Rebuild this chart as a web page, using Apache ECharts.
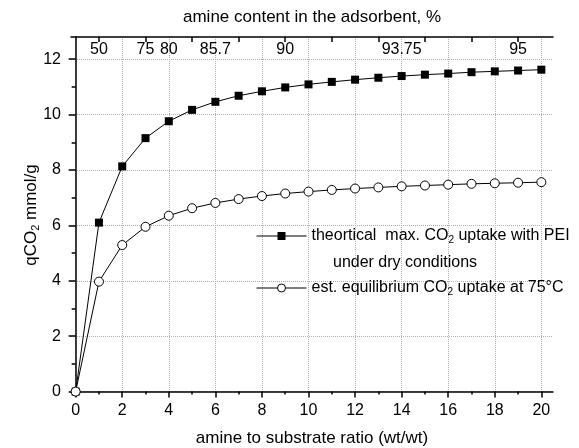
<!DOCTYPE html>
<html>
<head>
<meta charset="utf-8">
<script src="https://cdn.jsdelivr.net/npm/echarts@6/dist/echarts.min.js"></script>
<style>html,body{margin:0;padding:0;background:#fff}#c{width:579px;height:448px}</style>
</head>
<body>
<div id="c"></div>
<script>
// ---- data ----
const ratio = [0,1,2,3,4,5,6,7,8,9,10,11,12,13,14,15,16,17,18,19,20];
const theoretical = [0,6.10,8.13,9.15,9.76,10.17,10.46,10.68,10.84,10.98,11.09,11.18,11.26,11.33,11.39,11.44,11.48,11.53,11.56,11.59,11.62];
const equilibrium = [0,3.97,5.29,5.95,6.35,6.62,6.81,6.95,7.06,7.15,7.22,7.28,7.33,7.37,7.41,7.44,7.47,7.50,7.52,7.54,7.56];
const bottomTicks = [0,2,4,6,8,10,12,14,16,18,20];
const bottomMinor = [1,3,5,7,9,11,13,15,17,19];
const leftTicks = [0,2,4,6,8,10,12];
const leftMinor = [1,3,5,7,9,11];
const topTicks = [1,3,5,7,9,11,13,15,17,19];
const topLabelPos = [1,3,4,6,9,14,19];
const topLabels = ['50','75','80','85.7','90','93.75','95'];

const FONT = "'Liberation Sans', Arial, sans-serif";
const X_MIN = -0.2, X_MAX = 20.5, Y_MIN = -0.05, Y_MAX = 12.8;
const grid = '#b0b0b0';

const chart = echarts.init(document.getElementById('c'), null, {renderer: 'canvas'});
const option = {
  animation: false,
  textStyle: {fontFamily: FONT, color: '#000'},
  grid: {left: 71, right: 26, top: 37, bottom: 55, containLabel: false, outerBoundsMode: 'none'},
  xAxis: [
    {
      type: 'value', position: 'bottom', min: X_MIN, max: X_MAX,
      axisLine: {show: true, lineStyle: {color: '#000', width: 1.5}},
      axisTick: {show: true, inside: false, length: 6, customValues: bottomTicks, lineStyle: {color: '#000', width: 1.5}},
      axisLabel: {show: true, customValues: bottomTicks, fontSize: 16, color: '#000', margin: 10, fontFamily: FONT},
      splitLine: {show: true, lineStyle: {color: grid, type: 'dotted', width: 1}},
      name: 'amine to substrate ratio (wt/wt)', nameLocation: 'middle', nameGap: 37, nameMoveOverlap: false,
      nameTextStyle: {fontSize: 17, color: '#000', fontFamily: FONT}
    },
    {
      type: 'value', position: 'bottom', min: X_MIN, max: X_MAX,
      axisLine: {show: false},
      axisTick: {show: true, inside: false, length: 3, customValues: bottomMinor, lineStyle: {color: '#000', width: 1.5}},
      axisLabel: {show: false},
      splitLine: {show: false}
    },
    {
      type: 'value', position: 'top', min: X_MIN, max: X_MAX,
      axisLine: {show: true, lineStyle: {color: '#000', width: 1.5}},
      axisTick: {show: true, inside: true, length: 5, customValues: topTicks, lineStyle: {color: '#000', width: 1.5}},
      axisLabel: {show: true, inside: true, customValues: topLabelPos, fontSize: 16, color: '#000', margin: 5, fontFamily: FONT,
        formatter: v => { const i = topLabelPos.findIndex(p => Math.abs(p - v) < 1e-6); return i >= 0 ? topLabels[i] : ''; }},
      splitLine: {show: false},
      name: 'amine content in the adsorbent, %', nameLocation: 'middle', nameGap: 11, nameMoveOverlap: false,
      nameTextStyle: {fontSize: 17, color: '#000', fontFamily: FONT}
    }
  ],
  yAxis: [
    {
      type: 'value', position: 'left', min: Y_MIN, max: Y_MAX,
      axisLine: {show: true, lineStyle: {color: '#000', width: 1.5}},
      axisTick: {show: true, inside: false, length: 7, customValues: leftTicks, lineStyle: {color: '#000', width: 1.5}},
      axisLabel: {show: true, customValues: leftTicks, fontSize: 16, color: '#000', margin: 10, fontFamily: FONT},
      splitLine: {show: true, lineStyle: {color: grid, type: 'dotted', width: 1}},
      name: '{t|qCO}{s|2}{t| mmol/g}', nameLocation: 'middle', nameGap: 30, nameMoveOverlap: false,
      nameTextStyle: {fontSize: 17, color: '#000', fontFamily: FONT,
        rich: {t: {fontSize: 17, fontFamily: FONT, color: '#000'}, s: {fontSize: 11, fontFamily: FONT, color: '#000', padding: [8, 0, 0, 0]}}}
    },
    {
      type: 'value', position: 'left', min: Y_MIN, max: Y_MAX,
      axisLine: {show: false},
      axisTick: {show: true, inside: false, length: 4, customValues: leftMinor, lineStyle: {color: '#000', width: 1.5}},
      axisLabel: {show: false},
      splitLine: {show: false}
    }
  ],
  legend: {
    orient: 'vertical', left: 256, top: 228, padding: 0, itemGap: 35,
    itemWidth: 50, itemHeight: 10,
    data: ['theoretical', 'equilibrium'],
    lineStyle: {width: 1},
    itemStyle: {borderWidth: 1},
    formatter: name => name === 'theoretical'
      ? '{t|theortical  max. CO}{s|2}{t| uptake with PEI}'
      : '{t|est. equilibrium CO}{s|2}{t| uptake at 75°C}',
    textStyle: {color: '#000', fontFamily: FONT, fontSize: 16,
      rich: {t: {fontSize: 16, fontFamily: FONT, color: '#000'}, s: {fontSize: 10, fontFamily: FONT, color: '#000', padding: [8, 0, 0, 0]}}}
  },
  graphic: [
    {type: 'text', left: 333, top: 255, style: {text: 'under dry conditions', font: "16px 'Liberation Sans', Arial, sans-serif", fill: '#000'}}
  ],
  series: [
    {
      name: 'theoretical', type: 'line', xAxisIndex: 0, yAxisIndex: 0,
      data: ratio.map((r, i) => [r, theoretical[i]]),
      symbol: 'rect', symbolSize: 8,
      itemStyle: {color: '#000'},
      lineStyle: {color: '#000', width: 1},
      z: 3
    },
    {
      name: 'equilibrium', type: 'line', xAxisIndex: 0, yAxisIndex: 0,
      data: ratio.map((r, i) => [r, equilibrium[i]]),
      symbol: 'circle', symbolSize: 9,
      itemStyle: {color: '#fff', borderColor: '#000', borderWidth: 1},
      lineStyle: {color: '#000', width: 1},
      z: 4
    }
  ]
};
chart.setOption(option);
</script>
</body>
</html>
